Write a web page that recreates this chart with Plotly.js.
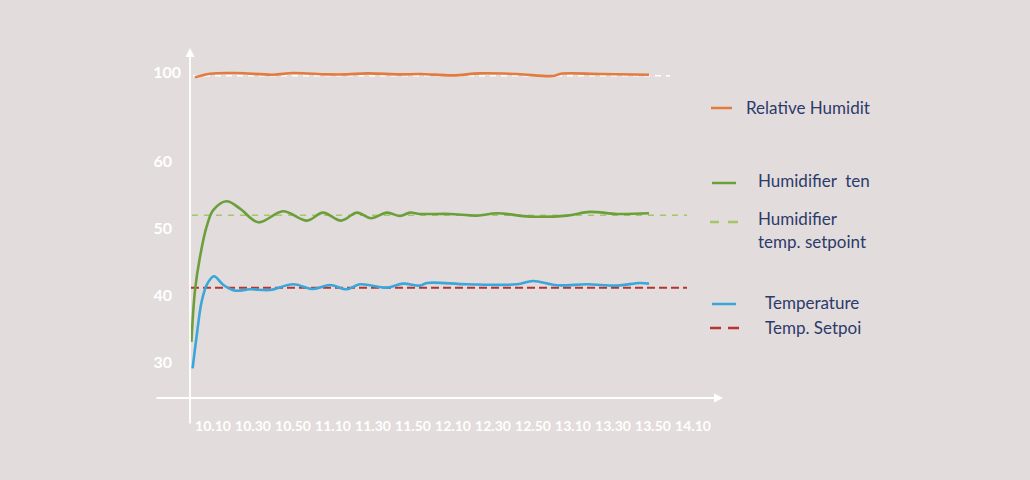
<!DOCTYPE html>
<html>
<head>
<meta charset="utf-8">
<script src="https://cdn.plot.ly/plotly-3.0.1.min.js"></script>
<style>html,body{margin:0;padding:0;background:#e3dcdc;}#chart{width:1030px;height:480px;}</style>
</head>
<body>
<div id="chart"></div>
<script>
// ---- data (time in minutes after 10:00) ----
const timeLabels = ["10.10","10.30","10.50","11.10","11.30","11.50","12.10","12.30","12.50","13.10","13.30","13.50","14.10"];
const tempLabels = ["30","40","50","60"];
const humidityLabels = ["100"];

const rhTime   = [1, 8.5, 21.8, 40, 50, 67, 77, 87, 103.5, 113.5, 130, 143.5, 162, 180, 184, 203.5, 228];
const rhValues = [99.2, 99.75, 99.85, 99.6, 99.85, 99.65, 99.65, 99.8, 99.65, 99.7, 99.5, 99.8, 99.7, 99.4, 99.75, 99.7, 99.6];
const rhSetTime = [0, 238.5];
const rhSetValues = [99.45, 99.45];

const humTime   = [-0.8, 1, 3.5, 6.8, 10.2, 16.8, 23.5, 32.7, 45, 57, 65, 74, 82, 89, 97, 103.5, 108.5, 113.5, 128.5, 142, 152, 168.5, 187, 198.5, 212, 228];
const humValues = [33.0, 40.7, 45.7, 50.2, 52.7, 54.0, 52.9, 50.85, 52.5, 51.1, 52.3, 51.1, 52.3, 51.45, 52.3, 51.8, 52.3, 52.1, 52.1, 51.85, 52.2, 51.7, 51.85, 52.4, 52.1, 52.2];
const humSetTime = [-0.5, 247];
const humSetValues = [51.9, 51.9];

const tempTime   = [-0.2, 1.8, 4.3, 7, 10.5, 15.2, 21, 28.5, 38.5, 50, 60, 68.5, 77, 83.5, 97, 105, 113.5, 117, 137, 162, 170, 182, 197, 212, 223.5, 228];
const tempValues = [29.05, 33.8, 39.0, 41.6, 42.8, 41.5, 40.65, 40.85, 40.75, 41.6, 40.9, 41.5, 40.85, 41.6, 41.1, 41.7, 41.4, 41.8, 41.6, 41.6, 42.1, 41.45, 41.6, 41.4, 41.8, 41.7];
const tempSetTime = [-1, 247];
const tempSetValues = [41.1, 41.1];

const legendNames = ["Relative Humidit", "Humidifier\u00a0 ten", "Humidifier", "temp. setpoint", "Temperature", "Temp. Setpoi"];

// ---- layout helpers ----
const W = 1030, H = 480, L = 190, R = 308, T = 50, B = 82;
const PW = W - L - R, PH = H - T - B;
const px = x => (x - L) / PW;
const py = y => (H - B - y) / PH;

const tickVals = timeLabels.map(s => { const [h, m] = s.split(".").map(Number); return h * 60 + m - 600; });

const cOrange = "#e27b3c", cGreen = "#6b9f3c", cLight = "#a3c766", cBlue = "#3aa6d9", cRed = "#b8322f";

const traces = [
  {x: rhSetTime, y: rhSetValues, yaxis: "y2", mode: "lines", line: {color: "#ffffff", width: 1.5, dash: "6px,5px"}},
  {x: humSetTime, y: humSetValues, mode: "lines", line: {color: cLight, width: 1.5, dash: "6px,6px"}},
  {x: tempSetTime, y: tempSetValues, mode: "lines", line: {color: cRed, width: 2, dash: "8px,4px"}},
  {x: humTime, y: humValues, mode: "lines", line: {color: cGreen, width: 2.6, shape: "spline", smoothing: 1}},
  {x: tempTime, y: tempValues, mode: "lines", line: {color: cBlue, width: 2.6, shape: "spline", smoothing: 1}},
  {x: rhTime, y: rhValues, yaxis: "y2", mode: "lines", line: {color: cOrange, width: 2.6, shape: "spline", smoothing: 1}}
];

const tickFont = {family: "Lato, 'Open Sans', sans-serif", size: 16, color: "#ffffff", weight: "bold"};

const legFont = {family: "Lato, 'Open Sans', sans-serif", size: 17, color: "#2b3b6b"};
function legText(t, x, y) {
  return {text: t, x: px(x), y: py(y), xref: "paper", yref: "paper", xanchor: "left", yanchor: "middle", showarrow: false, font: legFont};
}
function seg(x0, x1, y, color, w) {
  return {type: "line", xref: "paper", yref: "paper", x0: px(x0), x1: px(x1), y0: py(y), y1: py(y), line: {color: color, width: w}};
}

const annotations = [
  // axis arrows
  {x: px(190), y: py(48), xref: "paper", yref: "paper", ax: 0, ay: 377, text: "", showarrow: true, arrowhead: 2, arrowsize: 1, arrowwidth: 1.8, arrowcolor: "#ffffff", standoff: 0, startstandoff: 0},
  {x: px(723), y: py(398), xref: "paper", yref: "paper", ax: -568, ay: 0, text: "", showarrow: true, arrowhead: 2, arrowsize: 1, arrowwidth: 1.8, arrowcolor: "#ffffff", standoff: 0, startstandoff: 0},
  legText(legendNames[0], 744, 107),
  legText(legendNames[1], 756, 180),
  legText(legendNames[2], 756, 218),
  legText(legendNames[3], 756, 241),
  legText(legendNames[4], 763, 302),
  legText(legendNames[5], 763, 327)
];

const shapes = [
  seg(711, 732, 108, cOrange, 2.5),
  seg(712, 736, 183, cGreen, 2.5),
  seg(710, 719, 222, cLight, 2.5), seg(728, 738, 222, cLight, 2.5),
  seg(712, 736, 304, cBlue, 2.5),
  seg(710, 721, 328, cRed, 2.5), seg(728, 739, 328, cRed, 2.5)
];

const layout = {
  width: W, height: H,
  margin: {l: L, r: R, t: T, b: B, pad: 0},
  paper_bgcolor: "#e3dcdc", plot_bgcolor: "rgba(0,0,0,0)",
  showlegend: false,
  xaxis: {range: [-1.5, 264.5], tickvals: tickVals, ticktext: timeLabels, ticks: "", showgrid: false, zeroline: false, showline: false,
          ticklabelstandoff: 18, tickfont: {family: "Lato, 'Open Sans', sans-serif", size: 14, color: "#ffffff", weight: "bold"}},
  yaxis: {range: [24.627, 76.567], tickvals: tempLabels.map(Number), ticktext: tempLabels, ticks: "", showgrid: false, zeroline: false, showline: false,
          ticklabelstandoff: 17, tickfont: tickFont},
  yaxis2: {range: [51.343, 103.284], overlaying: "y", side: "left", tickvals: humidityLabels.map(Number), ticktext: humidityLabels, ticks: "", showgrid: false, zeroline: false, showline: false,
          ticklabelstandoff: 8, tickfont: tickFont},
  annotations: annotations,
  shapes: shapes
};

Plotly.newPlot("chart", traces, layout, {displayModeBar: false, staticPlot: true});
</script>
</body>
</html>
